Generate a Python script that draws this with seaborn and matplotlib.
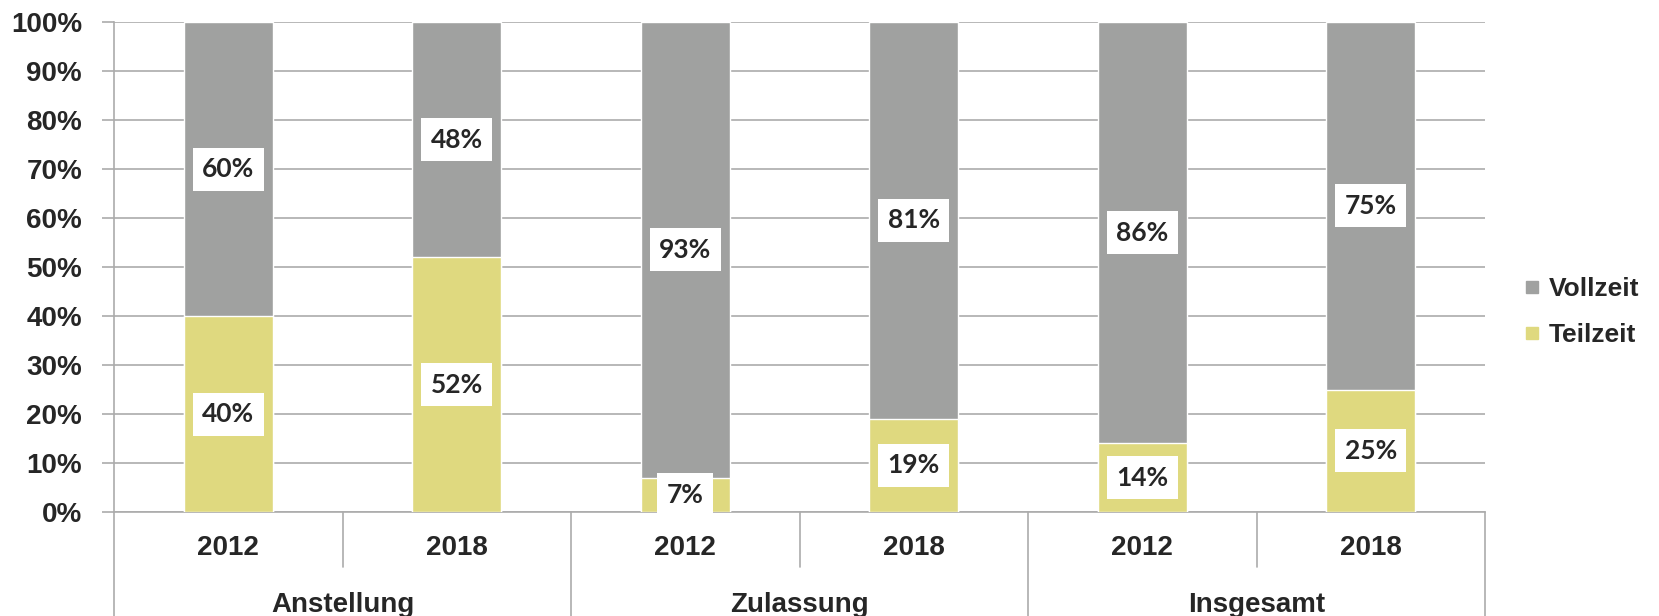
import matplotlib
matplotlib.use("Agg")
import matplotlib.pyplot as plt
import seaborn as sns
import pandas as pd
from matplotlib.lines import Line2D

groups = ["Anstellung", "Zulassung", "Insgesamt"]
years = ["2012", "2018"]
teilzeit = [40, 52, 7, 19, 14, 25]
vollzeit = [60, 48, 93, 81, 86, 75]
yticks = [0, 10, 20, 30, 40, 50, 60, 70, 80, 90, 100]

GRAY = "#A0A1A0"
YELLOW = "#DFD97F"
LINE = "#ABABAB"

sns.set_theme(style="white")
plt.rcParams['font.family'] = ['Liberation Sans', 'DejaVu Sans']

cats = [f"{g} {y}" for g in groups for y in years]
df = pd.DataFrame({"cat": cats, "Teilzeit": teilzeit, "Vollzeit": vollzeit})
df["total"] = df["Teilzeit"] + df["Vollzeit"]

fig = plt.figure(figsize=(16.59, 6.16), dpi=100)
ax = fig.add_axes([114 / 1659, 104 / 616, (1485 - 114) / 1659, (512 - 22) / 616])

sns.barplot(data=df, x="cat", y="total", color=GRAY, width=0.39, saturation=1,
            edgecolor="white", linewidth=1, errorbar=None, ax=ax, zorder=3)
sns.barplot(data=df, x="cat", y="Teilzeit", color=YELLOW, width=0.39, saturation=1,
            edgecolor="white", linewidth=1, errorbar=None, ax=ax, zorder=3)

ax.set_xlim(-0.5, 5.5)
ax.set_ylim(0, 100)
ax.set_yticks(yticks)
ax.set_yticklabels([f"{v}%" for v in yticks], fontsize=20, fontweight="bold")
ax.set_xlabel("")
ax.set_ylabel("")
ax.yaxis.grid(True, color=LINE, linewidth=1.2)
ax.set_axisbelow(True)
ax.tick_params(axis="y", length=9, width=1.2, color=LINE, pad=14, left=True)
ax.tick_params(axis="x", length=0, labelbottom=False)
for s in ["top", "right"]:
    ax.spines[s].set_visible(False)
for s in ["left", "bottom"]:
    ax.spines[s].set_color(LINE)
    ax.spines[s].set_linewidth(1.2)

# value labels
for i, (t, v) in enumerate(zip(teilzeit, vollzeit)):
    for val, yc in [(t, t / 2), (v, t + v / 2)]:
        ax.text(i, yc, f"{val}%", ha="center", va="center", fontsize=19,
                fontweight="bold", family=["Lato", "DejaVu Sans"], zorder=5,
                bbox=dict(boxstyle="square,pad=0.36", fc="white", ec="none"))

# two-level category axis
trans = ax.get_xaxis_transform()
ax_h = 490.0
for i, c in enumerate(cats):
    yr = c.split(" ")[1]
    ax.text(i, -36 / ax_h, yr, transform=trans, ha="center", va="center",
            fontsize=20, fontweight="bold", clip_on=False)
for gi, g in enumerate(groups):
    ax.text(gi * 2 + 0.5, -93 / ax_h, g, transform=trans, ha="center", va="center",
            fontsize=20, fontweight="bold", clip_on=False)
    ax.plot([gi * 2 + 0.5, gi * 2 + 0.5], [0, -55 / ax_h], transform=trans,
            color=LINE, lw=1.2, clip_on=False)
for xb in [-0.5, 1.5, 3.5, 5.5]:
    ax.plot([xb, xb], [0, -110 / ax_h], transform=trans, color=LINE, lw=1.2,
            clip_on=False)

handles = [Line2D([], [], marker="s", ls="", markersize=9, color=GRAY,
                  label="Vollzeit"),
           Line2D([], [], marker="s", ls="", markersize=9, color=YELLOW,
                  label="Teilzeit")]
leg = fig.legend(handles=handles, loc="center left",
                 bbox_to_anchor=(1524 / 1659, (616 - 312) / 616), frameon=False,
                 prop=dict(size=19, weight="bold"), handlelength=0.6,
                 handletextpad=0.35, labelspacing=0.85, borderpad=0,
                 borderaxespad=0)

fig.savefig("out.png", dpi=100)
